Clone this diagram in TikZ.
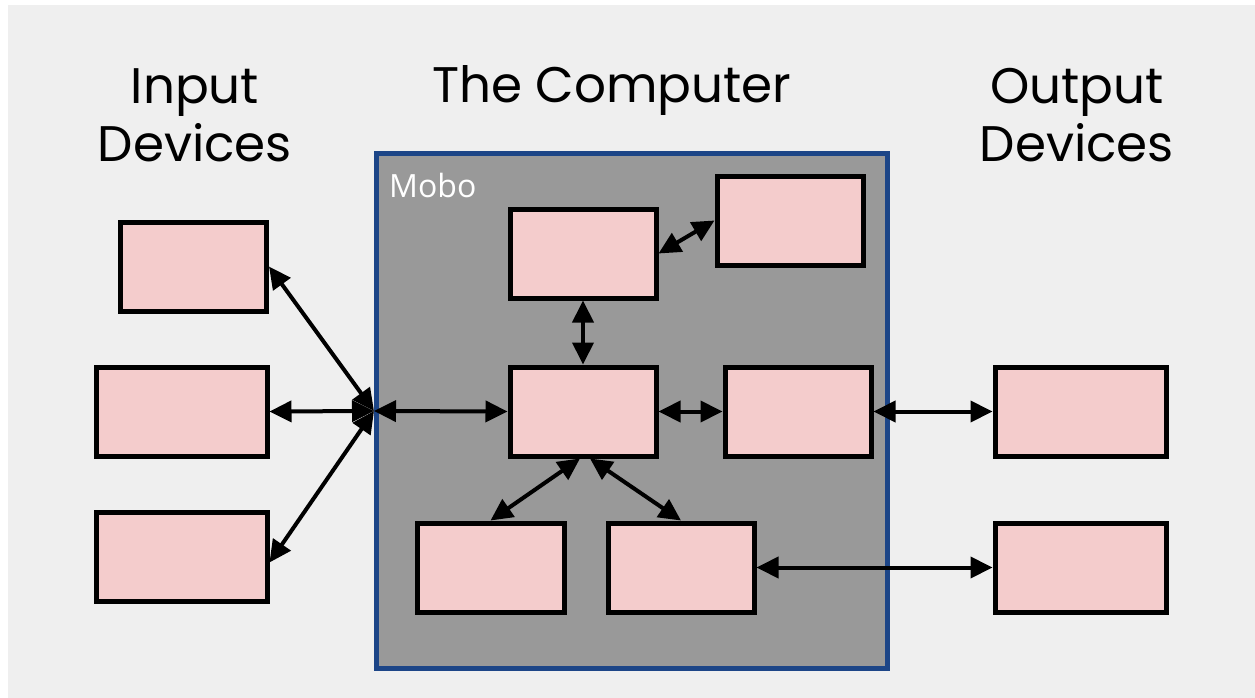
\documentclass[tikz,border=0pt]{standalone}
\usepackage{fontspec}
\usetikzlibrary{arrows.meta}
\newfontfamily\titlefont{Poppins}
\newfontfamily\labelfont{Open Sans}
\definecolor{bggray}{HTML}{EFEFEF}
\definecolor{pinkfill}{HTML}{F4CCCC}
\definecolor{mobogray}{HTML}{999999}
\definecolor{moboblue}{HTML}{1C4587}
\begin{document}
\begin{tikzpicture}[x=1pt,y=-1pt,
  pbox/.style={draw=black, line width=5pt, fill=pinkfill, inner sep=0pt, minimum width=146pt, minimum height=89pt},
  widebox/.style={pbox, minimum width=171pt},
  link/.style={line width=4pt, {Triangle[length=22pt,width=21pt]}-{Triangle[length=22pt,width=21pt]}},
  title/.style={font=\titlefont\fontsize{50}{58}\selectfont, align=center, anchor=base, inner sep=0pt},
  mobobox/.style={draw=moboblue, line width=5pt, fill=mobogray, inner sep=0pt, minimum width=511pt, minimum height=515pt}]
\useasboundingbox (0,0) rectangle (1255,698);
\fill[white] (0,0) rectangle (1255,698);
\fill[bggray] (8,5) rectangle (1255,698);

% titles (anchor base = baseline of last line)
\node[title] (tin) at (195,161) {Input\\Devices};
\node[title] (tcomp) at (612,103) {The Computer};
\node[title] (tout) at (1077,161) {Output\\Devices};

% motherboard
\node[mobobox] (mobo) at (631.5,410.5) {};
\node[anchor=base west, inner sep=0pt, text=white, font=\labelfont\fontsize{32}{36}\selectfont] (mobolabel) at (389,197) {Mobo};
\coordinate (hub) at (374,411);

% input devices
\node[pbox] (in1) at (193.5,266.5) {};
\node[widebox] (in2) at (181.5,411.5) {};
\node[widebox] (in3) at (181.5,556.5) {};

% inside computer
\node[pbox] (a) at (583,253.5) {};
\node[pbox] (b) at (790,220.5) {};
\node[pbox] (c) at (583,411.5) {};
\node[pbox] (d) at (798,411.5) {};
\node[pbox, minimum width=147pt] (e) at (490.5,567.5) {};
\node[pbox] (f) at (681,567.5) {};

% output devices
\node[widebox] (out1) at (1080.5,411.5) {};
\node[widebox] (out2) at (1080.5,567.5) {};

% connectors
\draw[link] (in1.east) -- (hub);
\draw[link] (in2.east) -- (hub);
\draw[link] ([yshift=-6pt]in3.east) -- (hub);
\draw[link] (hub) -- (c.west);
\draw[link] (a.south) -- (c.north);
\draw[link] (a.east) -- (b.west);
\draw[link] (c.east) -- (d.west);
\draw[link] (d.east) -- (out1.west);
\draw[link] ([xshift=-3pt]c.south) -- (e.north);
\draw[link] ([xshift=7pt]c.south) -- (f.north);
\draw[link] (f.east) -- (out2.west);
\end{tikzpicture}
\end{document}
